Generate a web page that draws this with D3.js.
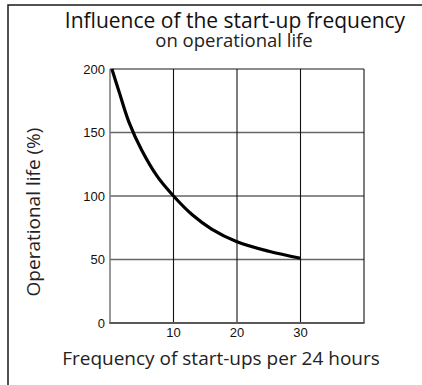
<!DOCTYPE html>
<html>
<head>
<meta charset="utf-8">
<script src="https://cdn.jsdelivr.net/npm/d3@7"></script>
<style>
  html, body { margin: 0; padding: 0; background: #fff; }
  svg { display: block; }
</style>
</head>
<body>
<svg id="chart" width="422" height="385"></svg>
<script>
// Start-ups per 24 hours vs. relative operational life
const startsPerDay = [0.3, 1.5, 3, 5, 7.5, 10, 13, 16, 20, 25, 30];
const lifePercent  = [200, 181, 158, 136, 115, 100, 85, 74, 64, 56.5, 51];

const xTicks = [10, 20, 30];
const yTicks = [0, 50, 100, 150, 200];
const xGrid  = [10, 20, 30, 40];
const yGrid  = [50, 100, 150, 200];

const titleText    = "Influence of the start-up frequency";
const subtitleText = "on operational life";
const xTitleText   = "Frequency of start-ups per 24 hours";
const yTitleText   = "Operational life (%)";

const svg = d3.select("#chart");
const plot = { left: 110, right: 364, top: 69, bottom: 323 };

const x = d3.scaleLinear().domain([0, 40]).range([plot.left, plot.right]);
const y = d3.scaleLinear().domain([0, 200]).range([plot.bottom, plot.top]);

// outer frame (top and left edges)
svg.append("path")
  .attr("d", "M8,385 V5 H422")
  .attr("fill", "none")
  .attr("stroke", "#1a1a1a")
  .attr("stroke-width", 1.5);

// horizontal grid
svg.append("g").selectAll("line").data(yGrid).join("line")
  .attr("x1", plot.left).attr("x2", plot.right)
  .attr("y1", d => y(d)).attr("y2", d => y(d))
  .attr("stroke", "#666").attr("stroke-width", 1.4);

// vertical grid
svg.append("g").selectAll("line").data(xGrid).join("line")
  .attr("x1", d => x(d)).attr("x2", d => x(d))
  .attr("y1", plot.top).attr("y2", plot.bottom)
  .attr("stroke", "#111").attr("stroke-width", 1.1);

// axis lines
svg.append("line")
  .attr("x1", plot.left).attr("x2", plot.left)
  .attr("y1", plot.top).attr("y2", plot.bottom)
  .attr("stroke", "#777").attr("stroke-width", 1.5);
svg.append("line")
  .attr("x1", plot.left - 0.75).attr("x2", plot.right + 0.5)
  .attr("y1", plot.bottom).attr("y2", plot.bottom)
  .attr("stroke", "#5a5a5a").attr("stroke-width", 2);

// tick labels
svg.append("g").selectAll("text").data(yTicks).join("text")
  .attr("x", 105).attr("y", d => y(d))
  .attr("dy", "0.35em")
  .attr("text-anchor", "end")
  .attr("font-family", "'Liberation Sans', Arial, sans-serif")
  .attr("font-size", 13)
  .attr("fill", "#111")
  .text(d => d);

svg.append("g").selectAll("text").data(xTicks).join("text")
  .attr("x", d => x(d)).attr("y", 337)
  .attr("text-anchor", "middle")
  .attr("font-family", "'Liberation Sans', Arial, sans-serif")
  .attr("font-size", 13)
  .attr("fill", "#111")
  .text(d => d);

// curve
const line = d3.line()
  .x((d, i) => x(startsPerDay[i]))
  .y(d => y(d))
  .curve(d3.curveCatmullRom.alpha(0.5));

svg.append("path")
  .datum(lifePercent)
  .attr("d", line)
  .attr("fill", "none")
  .attr("stroke", "#000")
  .attr("stroke-width", 3.2)
  .attr("stroke-linecap", "butt");

// titles
svg.append("text")
  .attr("x", 235).attr("y", 28)
  .attr("text-anchor", "middle")
  .attr("font-family", "'Open Sans', sans-serif")
  .attr("font-weight", 500)
  .attr("font-size", 21)
  .attr("fill", "#111")
  .text(titleText);

svg.append("text")
  .attr("x", 234).attr("y", 47)
  .attr("text-anchor", "middle")
  .attr("font-family", "'Open Sans', sans-serif")
  .attr("font-weight", 400)
  .attr("font-size", 18.5)
  .attr("fill", "#222")
  .text(subtitleText);

svg.append("text")
  .attr("x", 221).attr("y", 365)
  .attr("text-anchor", "middle")
  .attr("font-family", "'Open Sans', sans-serif")
  .attr("font-weight", 400)
  .attr("font-size", 19)
  .attr("fill", "#222")
  .text(xTitleText);

svg.append("text")
  .attr("transform", "translate(40,212) rotate(-90)")
  .attr("text-anchor", "middle")
  .attr("font-family", "'Open Sans', sans-serif")
  .attr("font-weight", 400)
  .attr("font-size", 19)
  .attr("fill", "#222")
  .text(yTitleText);
</script>
</body>
</html>
